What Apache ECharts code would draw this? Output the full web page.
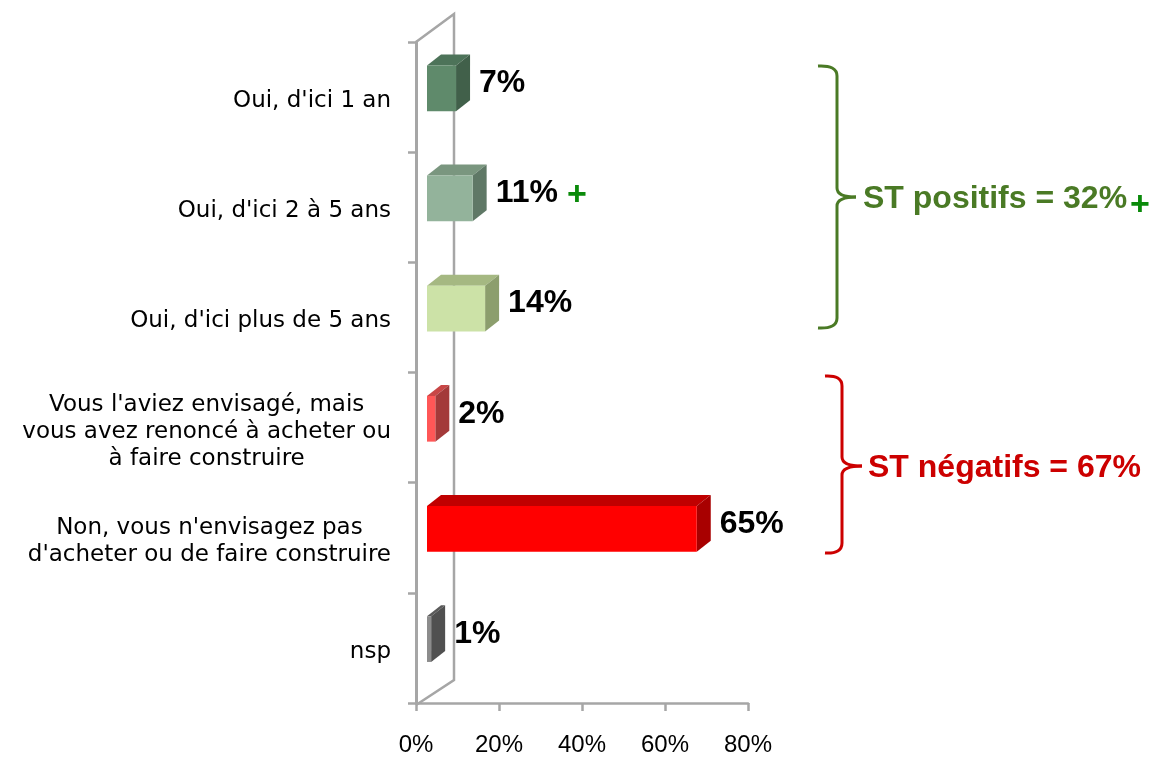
<!DOCTYPE html>
<html>
<head>
<meta charset="utf-8">
<script src="https://cdn.jsdelivr.net/npm/echarts@6/dist/echarts.min.js"></script>
<style>
html,body{margin:0;padding:0;background:#fff;}
#chart{width:1156px;height:757px;}
</style>
</head>
<body>
<div id="chart"></div>
<script>
// ---- data ----
const categories = [
  "Oui, d'ici 1 an",
  "Oui, d'ici 2 à 5 ans",
  "Oui, d'ici plus de 5 ans",
  "Vous l'aviez envisagé, mais\nvous avez renoncé à acheter ou\nà faire construire",
  "Non, vous n'envisagez pas\nd'acheter ou de faire construire",
  "nsp"
];
const values = [7, 11, 14, 2, 65, 1];
const xTicks = [0, 20, 40, 60, 80];
const groupLabels = ["ST positifs = 32%", "ST négatifs = 67%"];

// ---- styles ----
const palette = [
  {front: '#5F8A6B', top: '#4D7359', side: '#41604A'},
  {front: '#93B39B', top: '#7A967F', side: '#5F7866'},
  {front: '#CCE2A7', top: '#A5B882', side: '#8C9E6D'},
  {front: '#FF5757', top: '#C84646', side: '#A33A3A'},
  {front: '#FF0000', top: '#C00000', side: '#A80000'},
  {front: '#8C8C8C', top: '#5A5A5A', side: '#505050'}
];
const G = {left: 416, top: 42, width: 332, height: 663};
const wallDx = 38, wallDy = 28;
const gray = '#A6A6A6';
const green = '#4A7A25';
const red = '#CC0000';

const chart = echarts.init(document.getElementById('chart'), null, {renderer: 'canvas'});

function renderItem(params, api) {
  const v = api.value(0), idx = api.value(1);
  const p0 = api.coord([0, idx]);
  const p1 = api.coord([v, idx]);
  const band = api.size([0, 1])[1];
  const off = 11;
  const x0 = p0[0] + off, x1 = p1[0] + off;
  const h = band * 0.415;
  const cy = p0[1] - band * 0.08;
  const yt = cy - h / 2, yb = cy + h / 2;
  const dx = 14, dy = 11;
  const c = palette[idx];
  return {
    type: 'group',
    children: [
      {type: 'polygon', shape: {points: [[x0, yt], [x1, yt], [x1 + dx, yt - dy], [x0 + dx, yt - dy]]}, style: {fill: c.top}},
      {type: 'polygon', shape: {points: [[x1, yt], [x1 + dx, yt - dy], [x1 + dx, yb - dy], [x1, yb]]}, style: {fill: c.side}},
      {type: 'rect', shape: {x: x0, y: yt, width: x1 - x0, height: h}, style: {fill: c.front}},
      {type: 'text', x: x1 + dx + 9, y: cy - 5, style: {
        text: v + '%', fill: '#000', fontFamily: '"Liberation Sans Narrow", "Liberation Sans", Arial, sans-serif',
        fontWeight: 'bold', fontSize: 32, verticalAlign: 'middle', align: 'left'}}
    ]
  };
}

// curly brace "}" built from lines and quadratic curves
function brace(x, xLeft, xTip, yTop, yMid, yBot, color) {
  const st = {stroke: color, lineWidth: 3, fill: null};
  const r = 10;
  return [
    {type: 'bezierCurve', z: 10, shape: {x1: xLeft, y1: yTop, cpx1: x, cpy1: yTop - 1, x2: x, y2: yTop + r}, style: st},
    {type: 'line', z: 10, shape: {x1: x, y1: yTop + r, x2: x, y2: yMid - 9}, style: st},
    {type: 'bezierCurve', z: 10, shape: {x1: x, y1: yMid - 9, cpx1: x, cpy1: yMid, x2: xTip, y2: yMid}, style: st},
    {type: 'bezierCurve', z: 10, shape: {x1: xTip, y1: yMid, cpx1: x, cpy1: yMid, x2: x, y2: yMid + 9}, style: st},
    {type: 'line', z: 10, shape: {x1: x, y1: yMid + 9, x2: x, y2: yBot - r}, style: st},
    {type: 'bezierCurve', z: 10, shape: {x1: x, y1: yBot - r, cpx1: x, cpy1: yBot + 1, x2: xLeft, y2: yBot}, style: st}
  ];
}

const textFont = '"Liberation Sans", Arial, sans-serif';
const option = {
  animation: false,
  backgroundColor: '#fff',
  grid: {left: G.left, top: G.top, width: G.width, height: G.height},
  xAxis: {
    type: 'value', min: xTicks[0], max: xTicks[xTicks.length - 1], interval: 20,
    axisLine: {show: true, lineStyle: {color: gray, width: 2.5}},
    axisTick: {show: true, length: 8, lineStyle: {color: gray, width: 2.5}},
    splitLine: {show: false},
    axisLabel: {formatter: '{value}%', color: '#000', fontSize: 24, margin: 30, fontFamily: textFont}
  },
  yAxis: {
    type: 'category', data: categories, inverse: true,
    axisLine: {show: true, lineStyle: {color: gray, width: 3}},
    axisTick: {show: true, length: 8, lineStyle: {color: gray, width: 2.5}},
    axisLabel: {
      margin: 25, color: '#000', padding: [8, 0, 0, 0],
      formatter: function (v) { return v.split('\n').map(l => '{c|' + l + '}').join('\n'); },
      rich: {c: {align: 'center', fontSize: 23, lineHeight: 27, color: '#000',
        fontFamily: '"DejaVu Sans", Verdana, sans-serif'}}
    }
  },
  series: [{
    type: 'custom', renderItem: renderItem, z: 5,
    encode: {x: 0, y: 1},
    data: values.map((v, i) => [v, i])
  }],
  graphic: [
    {type: 'polyline', z: 1, shape: {points: [
      [G.left, G.top], [G.left + wallDx, G.top - wallDy],
      [G.left + wallDx, G.top + G.height - 25], [G.left, G.top + G.height]]},
      style: {stroke: gray, lineWidth: 2.5, fill: null}},
    {type: 'text', x: 577, y: 196, z: 10, style: {text: '+', fill: '#0A8A0A', fontSize: 34, fontWeight: 'bold',
      fontFamily: textFont, align: 'center', verticalAlign: 'middle'}},
    ...brace(837, 818, 856, 66, 197, 328, green),
    {type: 'text', x: 863, y: 199, z: 10, style: {text: groupLabels[0], fill: green, fontSize: 32, fontWeight: 'bold',
      fontFamily: textFont, align: 'left', verticalAlign: 'middle'}},
    {type: 'text', x: 1140, y: 206, z: 10, style: {text: '+', fill: '#0A8A0A', fontSize: 34, fontWeight: 'bold',
      fontFamily: textFont, align: 'center', verticalAlign: 'middle'}},
    ...brace(842, 825, 862, 376, 466, 553, red),
    {type: 'text', x: 868, y: 468, z: 10, style: {text: groupLabels[1], fill: red, fontSize: 32, fontWeight: 'bold',
      fontFamily: textFont, align: 'left', verticalAlign: 'middle'}}
  ]
};
chart.setOption(option);
</script>
</body>
</html>
